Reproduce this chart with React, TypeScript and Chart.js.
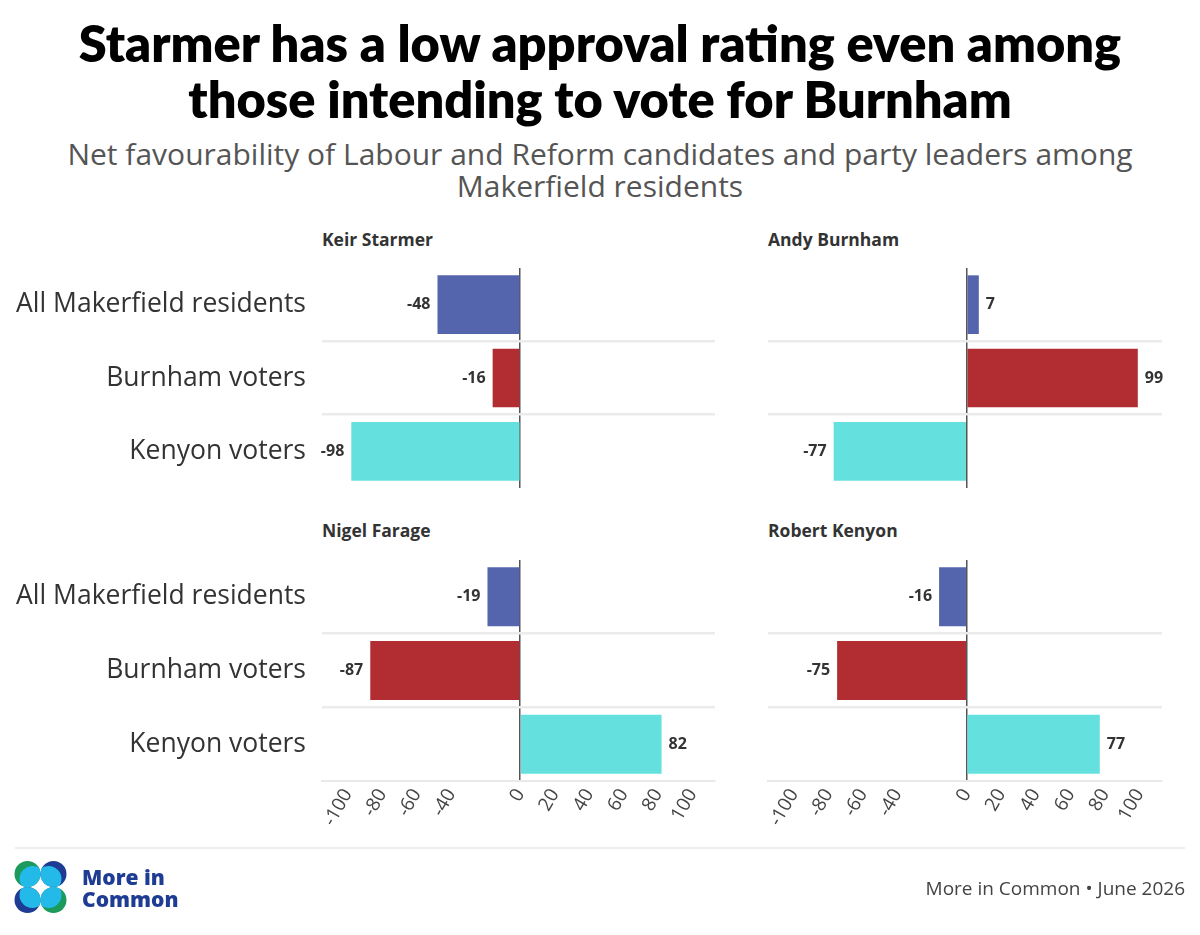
import React, { useEffect, useRef } from "react";
import Chart from "chart.js/auto";

const GROUPS = ["All Makerfield residents", "Burnham voters", "Kenyon voters"];
const STARMER = [-48, -16, -98];
const BURNHAM = [7, 99, -77];
const FARAGE = [-19, -87, 82];
const KENYON = [-16, -75, 77];
const TICK_VALUES = [-100, -80, -60, -40, 0, 20, 40, 60, 80, 100];
const BAR_COLORS = ["#5565ad", "#b22d32", "#64e0de"];
const X_MIN = -115;
const X_MAX = 113;

const FONT = "'Open Sans', Lato, sans-serif";
const TITLE_FONT = "Lato, 'Open Sans', sans-serif";

const valueLabels = {
  id: "valueLabels",
  afterDatasetsDraw(chart: any) {
    const ctx = chart.ctx;
    ctx.save();
    ctx.font = `bold 16px ${FONT}`;
    ctx.fillStyle = "#333333";
    ctx.textBaseline = "middle";
    chart.data.datasets.forEach((ds: any, di: number) => {
      const meta = chart.getDatasetMeta(di);
      meta.data.forEach((bar: any, i: number) => {
        const v = ds.data[i];
        if (v < 0) {
          ctx.textAlign = "right";
          ctx.fillText(String(v), bar.x - 7, bar.y);
        } else {
          ctx.textAlign = "left";
          ctx.fillText(String(v), bar.x + 7, bar.y);
        }
      });
    });
    ctx.restore();
  },
};

type PanelProps = {
  left: number;
  top: number;
  width: number;
  height: number;
  values: number[];
  showY: boolean;
  showX: boolean;
  yWidth: number;
  padRight: number;
  padTop: number;
  padBottom: number;
};

function Panel(p: PanelProps) {
  const ref = useRef<HTMLCanvasElement>(null);
  useEffect(() => {
    const chart = new Chart(ref.current as HTMLCanvasElement, {
      type: "bar",
      data: {
        labels: GROUPS,
        datasets: [
          {
            data: p.values,
            backgroundColor: BAR_COLORS,
            categoryPercentage: 0.8,
            barPercentage: 1.0,
          },
        ],
      },
      plugins: [valueLabels],
      options: {
        indexAxis: "y",
        responsive: false,
        animation: false,
        layout: { padding: { top: p.padTop, right: p.padRight, left: 0, bottom: p.padBottom } },
        plugins: { legend: { display: false }, tooltip: { enabled: false } },
        scales: {
          x: {
            min: X_MIN,
            max: X_MAX,
            afterBuildTicks: (axis: any) => {
              axis.ticks = TICK_VALUES.map((v) => ({ value: v }));
            },
            afterFit: (axis: any) => {
              axis.height = p.showX ? 60 : 0;
              axis.paddingLeft = 0;
              axis.paddingRight = 0;
              axis.paddingTop = 0;
              axis.paddingBottom = 0;
            },
            ticks: {
              display: p.showX,
              autoSkip: false,
              minRotation: 60,
              maxRotation: 60,
              padding: 4,
              color: "#444444",
              font: { family: FONT, size: 19 },
            },
            grid: {
              drawTicks: false,
              color: (c: any) => (c.tick && c.tick.value === 0 ? "#555555" : "rgba(0,0,0,0)"),
              lineWidth: 1.5,
            },
            border: { display: p.showX, color: "#e9e9e9", width: 2 },
          },
          y: {
            afterFit: (axis: any) => {
              axis.width = p.yWidth;
              axis.paddingLeft = 0;
              axis.paddingRight = 0;
              axis.paddingTop = 0;
              axis.paddingBottom = 0;
            },
            ticks: {
              display: p.showY,
              padding: 16,
              color: "#333333",
              font: { family: FONT, size: 26.5 },
            },
            grid: {
              drawTicks: false,
              offset: true,
              lineWidth: 2.5,
              color: (c: any) => (c.index === 1 || c.index === 2 ? "#ebebeb" : "rgba(0,0,0,0)"),
            },
            border: { display: false },
          },
        },
      } as any,
    });
    return () => chart.destroy();
  }, []);
  return (
    <canvas
      ref={ref}
      width={p.width}
      height={p.height}
      style={{ position: "absolute", left: p.left, top: p.top, width: p.width, height: p.height }}
    />
  );
}

const panelTitle = (text: string, left: number, top: number) => (
  <div
    style={{
      position: "absolute",
      left,
      top,
      fontFamily: FONT,
      fontWeight: 700,
      fontSize: 17.5,
      lineHeight: "20px",
      color: "#333",
    }}
  >
    {text}
  </div>
);

function Logo() {
  const r = 13;
  const quads = [
    { cx: 27.5, cy: 874, color: "#1c9a5b", dx: 5, dy: 5 },
    { cx: 53.5, cy: 874, color: "#1f3c94", dx: -5, dy: 5 },
    { cx: 27.5, cy: 900, color: "#1f3c94", dx: 5, dy: -5 },
    { cx: 53.5, cy: 900, color: "#1c9a5b", dx: -5, dy: -5 },
  ];
  return (
    <svg
      width={1200}
      height={935}
      style={{ position: "absolute", left: 0, top: 0, pointerEvents: "none" }}
    >
      <defs>
        {quads.map((q, i) => (
          <clipPath id={`lc${i}`} key={i}>
            <circle cx={q.cx} cy={q.cy} r={r} />
          </clipPath>
        ))}
      </defs>
      {quads.map((q, i) => (
        <g key={i}>
          <circle cx={q.cx} cy={q.cy} r={r} fill={q.color} />
          <circle clipPath={`url(#lc${i})`} cx={q.cx + q.dx} cy={q.cy + q.dy} r={r} fill="#23b9e9" />
        </g>
      ))}
      <line x1={15} y1={848} x2={1185} y2={848} stroke="#dddddd" strokeWidth={1} />
    </svg>
  );
}

export default function App() {
  return (
    <div
      style={{
        position: "absolute",
        left: 0,
        top: 0,
        width: 1200,
        height: 935,
        background: "#fff",
        overflow: "hidden",
        fontFamily: FONT,
      }}
    >
      <div
        style={{
          position: "absolute",
          left: 0,
          top: 15,
          width: 1200,
          textAlign: "center",
          fontFamily: TITLE_FONT,
          fontWeight: 800,
          fontSize: 50.5,
          lineHeight: "56px",
          color: "#000",
        }}
      >
        Starmer has a low approval rating even among
        <br />
        those intending to vote for Burnham
      </div>
      <div
        style={{
          position: "absolute",
          left: 0,
          top: 138,
          width: 1200,
          textAlign: "center",
          fontSize: 30,
          lineHeight: "32px",
          color: "#555",
        }}
      >
        Net favourability of Labour and Reform candidates and party leaders among
        <br />
        Makerfield residents
      </div>

      {panelTitle("Keir Starmer", 322, 229)}
      {panelTitle("Andy Burnham", 768, 229)}
      {panelTitle("Nigel Farage", 322, 520)}
      {panelTitle("Robert Kenyon", 768, 520)}

      <Panel left={0} top={258} width={720} height={240} values={STARMER} showY={true} showX={false} yWidth={322} padRight={5} padTop={10} padBottom={10} />
      <Panel left={760} top={258} width={440} height={240} values={BURNHAM} showY={false} showX={false} yWidth={8} padRight={38} padTop={10} padBottom={10} />
      <Panel left={0} top={550} width={720} height={295} values={FARAGE} showY={true} showX={true} yWidth={322} padRight={5} padTop={10} padBottom={4} />
      <Panel left={760} top={550} width={440} height={295} values={KENYON} showY={false} showX={true} yWidth={8} padRight={38} padTop={10} padBottom={4} />

      <Logo />
      <div
        style={{
          position: "absolute",
          left: 82,
          top: 866,
          fontWeight: 800,
          fontSize: 21,
          lineHeight: "22px",
          color: "#1f3c94",
        }}
      >
        More in
        <br />
        Common
      </div>
      <div
        style={{
          position: "absolute",
          right: 15,
          top: 877,
          fontSize: 19,
          lineHeight: "22px",
          color: "#444",
        }}
      >
        More in Common • June 2026
      </div>
    </div>
  );
}
